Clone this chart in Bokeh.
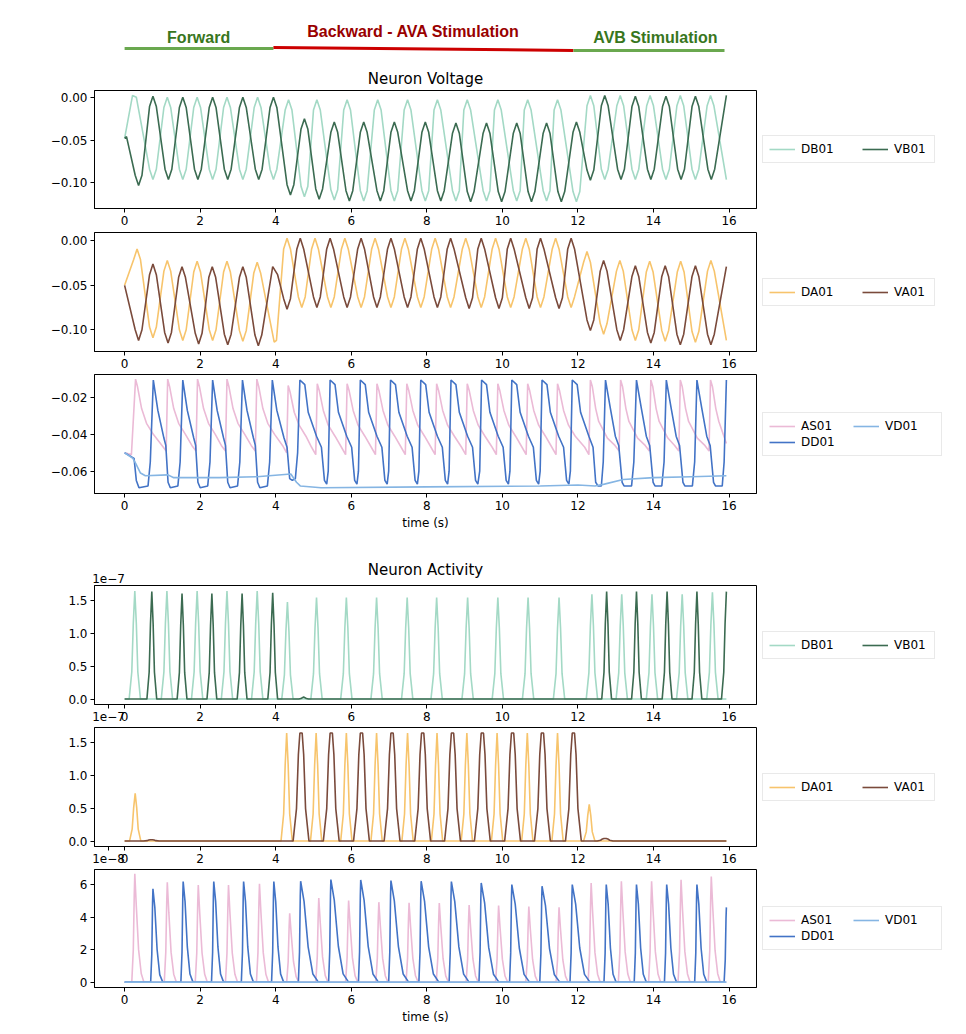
from bokeh.plotting import figure
from bokeh.models import (Range1d, FixedTicker, CustomJSTickFormatter, Legend,
                          LegendItem, LinearAxis, ColumnDataSource)
from bokeh.layouts import column
from bokeh.embed import file_html
from bokeh.resources import INLINE
from bokeh.core.properties import value

# ---------------- header phases ----------------
PHASE_NAMES = ["Forward", "Backward - AVA Stimulation", "AVB Stimulation"]
PHASE_START = [0.0, 3.94, 11.88]
PHASE_END = [3.94, 11.88, 15.88]
PHASE_LABEL_T = [1.96, 7.65, 14.05]

# ---------------- Neuron Voltage : DB01 / VB01 (turning points) ----------------
DB_T = [0.00, 0.21, 0.31, 0.75, 1.13, 1.54, 1.92, 2.33, 2.71, 3.13, 3.52, 3.94,
        4.34, 4.76, 5.09, 5.55, 5.89, 6.33, 6.70, 7.14, 7.49, 7.96, 8.28, 8.77,
        9.07, 9.58, 9.88, 10.38, 10.67, 11.17, 11.46, 11.96, 12.33, 12.71, 13.12,
        13.52, 13.91, 14.33, 14.71, 15.11, 15.51, 15.93]
DB_V = [-0.048, 0.002, 0.000, -0.096, 0.000, -0.096, 0.000, -0.096, 0.000, -0.096, 0.000, -0.096,
        -0.003, -0.116, -0.003, -0.120, -0.003, -0.121, -0.003, -0.121, -0.003, -0.121, -0.003, -0.121,
        -0.003, -0.121, -0.003, -0.121, -0.003, -0.121, -0.003, -0.122, 0.002, -0.096, 0.002,
        -0.096, 0.002, -0.096, 0.002, -0.096, 0.002, -0.096]
VB_T = [0.00, 0.05, 0.37, 0.75, 1.16, 1.54, 1.94, 2.33, 2.73, 3.13, 3.55, 3.94,
        4.39, 4.76, 5.15, 5.55, 5.95, 6.33, 6.77, 7.14, 7.58, 7.96, 8.37, 8.77,
        9.16, 9.58, 9.98, 10.38, 10.77, 11.17, 11.56, 11.96, 12.33, 12.71, 13.14,
        13.52, 13.93, 14.33, 14.73, 15.11, 15.53, 15.93]
VB_V = [-0.048, -0.046, -0.103, 0.001, -0.096, 0.000, -0.096, 0.000, -0.096, 0.000, -0.096, 0.000,
        -0.114, -0.025, -0.119, -0.029, -0.121, -0.029, -0.121, -0.029, -0.121, -0.029, -0.121, -0.030,
        -0.122, -0.030, -0.122, -0.030, -0.122, -0.030, -0.122, -0.029, -0.097, 0.002, -0.096,
        0.001, -0.096, 0.001, -0.096, 0.001, -0.096, 0.002]

# ---------------- Neuron Voltage : DA01 / VA01 (turning points) ----------------
DA_T = [0.00, 0.33, 0.75, 1.13, 1.54, 1.92, 2.33, 2.71, 3.13, 3.51, 3.96, 4.02,
        4.30, 4.69, 5.04, 5.46, 5.83, 6.26, 6.63, 7.05, 7.42, 7.84, 8.22, 8.63,
        9.03, 9.44, 9.82, 10.22, 10.62, 11.01, 11.41, 11.82, 12.24, 12.68, 13.11,
        13.52, 13.90, 14.31, 14.72, 15.11, 15.52, 15.93]
DA_V = [-0.050, -0.009, -0.109, -0.022, -0.112, -0.023, -0.112, -0.023, -0.113, -0.024, -0.114, -0.112,
        0.003, -0.075, 0.003, -0.075, 0.003, -0.075, 0.003, -0.075, 0.003, -0.075, 0.003, -0.075,
        0.003, -0.075, 0.003, -0.075, 0.003, -0.075, 0.003, -0.075, -0.012, -0.105, -0.022,
        -0.112, -0.023, -0.113, -0.023, -0.114, -0.022, -0.112]
VA_T = [0.00, 0.37, 0.75, 1.15, 1.52, 1.96, 2.32, 2.73, 3.13, 3.54, 3.92, 4.05,
        4.30, 4.65, 5.09, 5.44, 5.89, 6.26, 6.68, 7.05, 7.49, 7.84, 8.28, 8.63,
        9.12, 9.44, 9.91, 10.22, 10.71, 11.01, 11.50, 11.82, 12.33, 12.68, 13.12,
        13.52, 13.93, 14.31, 14.71, 15.11, 15.52, 15.93]
VA_V = [-0.050, -0.112, -0.026, -0.115, -0.029, -0.116, -0.029, -0.117, -0.029, -0.118, -0.029, -0.038,
        -0.077, 0.003, -0.075, 0.003, -0.075, 0.003, -0.075, 0.003, -0.075, 0.003, -0.075, 0.003,
        -0.076, 0.003, -0.076, 0.003, -0.076, 0.003, -0.076, 0.003, -0.101, -0.022, -0.112,
        -0.028, -0.115, -0.028, -0.117, -0.028, -0.117, -0.029]

# ---------------- Neuron Voltage : AS01 / DD01 / VD01 ----------------
AS_T = [0.00, 0.18, 0.29,
        0.34, 0.45, 0.58, 0.76, 0.99, 1.10, 1.14,
        1.19, 1.30, 1.43, 1.61, 1.78, 1.89, 1.93,
        1.98, 2.09, 2.22, 2.40, 2.56, 2.67, 2.71,
        2.76, 2.87, 3.00, 3.18, 3.35, 3.46, 3.50,
        3.55, 3.66, 3.79, 3.97, 4.18, 4.29, 4.33,
        4.38, 4.49, 4.62, 4.80, 4.95, 5.06, 5.10,
        5.15, 5.26, 5.39, 5.57, 5.74, 5.85, 5.89,
        5.94, 6.05, 6.18, 6.36, 6.53, 6.64, 6.68,
        6.73, 6.84, 6.97, 7.15, 7.32, 7.43, 7.47,
        7.52, 7.63, 7.76, 7.94, 8.11, 8.22, 8.26,
        8.31, 8.42, 8.55, 8.73, 8.92, 9.03, 9.07,
        9.12, 9.23, 9.36, 9.54, 9.73, 9.84, 9.88,
        9.93, 10.04, 10.17, 10.35, 10.52, 10.63, 10.67,
        10.72, 10.83, 10.96, 11.14, 11.31, 11.42, 11.46,
        11.51, 11.62, 11.75, 11.93, 12.18, 12.29, 12.33,
        12.38, 12.47, 12.55, 12.78, 12.98, 13.09, 13.13,
        13.18, 13.27, 13.35, 13.58, 13.78, 13.89, 13.93,
        13.98, 14.07, 14.15, 14.38, 14.56, 14.67, 14.71,
        14.76, 14.85, 14.93, 15.16, 15.36, 15.47, 15.51,
        15.56, 15.65, 15.73, 15.93]
AS_V = [-0.050, -0.051, -0.010,
        -0.014, -0.026, -0.034, -0.040, -0.046, -0.049, -0.010,
        -0.014, -0.026, -0.034, -0.040, -0.046, -0.049, -0.010,
        -0.014, -0.026, -0.034, -0.040, -0.046, -0.049, -0.010,
        -0.014, -0.026, -0.034, -0.040, -0.046, -0.049, -0.010,
        -0.014, -0.026, -0.034, -0.040, -0.046, -0.050, -0.0135,
        -0.017, -0.028, -0.035, -0.041, -0.047, -0.051, -0.0125,
        -0.016, -0.027, -0.035, -0.041, -0.047, -0.051, -0.0125,
        -0.016, -0.027, -0.035, -0.041, -0.047, -0.051, -0.0125,
        -0.016, -0.027, -0.035, -0.041, -0.047, -0.051, -0.0125,
        -0.016, -0.027, -0.035, -0.041, -0.047, -0.051, -0.0125,
        -0.016, -0.027, -0.035, -0.041, -0.047, -0.051, -0.0125,
        -0.016, -0.027, -0.035, -0.041, -0.047, -0.051, -0.0125,
        -0.016, -0.027, -0.035, -0.041, -0.047, -0.051, -0.0125,
        -0.016, -0.027, -0.035, -0.041, -0.047, -0.051, -0.0125,
        -0.016, -0.027, -0.035, -0.041, -0.047, -0.051, -0.0105,
        -0.014, -0.026, -0.033, -0.042, -0.046, -0.049, -0.0105,
        -0.014, -0.026, -0.033, -0.042, -0.046, -0.049, -0.0105,
        -0.014, -0.026, -0.033, -0.042, -0.046, -0.049, -0.0105,
        -0.014, -0.026, -0.033, -0.042, -0.046, -0.049, -0.0105,
        -0.014, -0.026, -0.033, -0.045]

DD_T = [0.00, 0.25, 0.31, 0.38, 0.62, 0.68, 0.76,
        0.88, 1.04, 1.09, 1.15, 1.21, 1.41, 1.47, 1.54,
        1.66, 1.83, 1.88, 1.94, 2.00, 2.20, 2.26, 2.33,
        2.45, 2.62, 2.67, 2.73, 2.79, 2.99, 3.05, 3.12,
        3.24, 3.41, 3.46, 3.52, 3.58, 3.78, 3.84, 3.91,
        4.03, 4.22, 4.30, 4.37, 4.44, 4.52, 4.58, 4.64,
        4.77, 4.86, 5.08, 5.21, 5.29, 5.35, 5.39, 5.44,
        5.57, 5.66, 5.88, 6.01, 6.09, 6.15, 6.19, 6.24,
        6.37, 6.46, 6.68, 6.81, 6.89, 6.95, 6.99, 7.04,
        7.17, 7.26, 7.48, 7.61, 7.69, 7.75, 7.79, 7.84,
        7.97, 8.06, 8.28, 8.41, 8.49, 8.55, 8.59, 8.64,
        8.77, 8.86, 9.08, 9.21, 9.29, 9.35, 9.40, 9.45,
        9.58, 9.67, 9.89, 10.02, 10.10, 10.16, 10.20, 10.25,
        10.38, 10.47, 10.69, 10.82, 10.90, 10.96, 11.00, 11.05,
        11.18, 11.27, 11.49, 11.62, 11.70, 11.76, 11.80, 11.85,
        11.98, 12.07, 12.29, 12.40, 12.47, 12.53, 12.62, 12.67, 12.73,
        12.86, 12.99, 13.08, 13.17, 13.22, 13.42, 13.48, 13.55,
        13.68, 13.81, 13.90, 13.99, 14.04, 14.22, 14.28, 14.34,
        14.47, 14.60, 14.69, 14.78, 14.83, 15.03, 15.09, 15.15,
        15.28, 15.41, 15.50, 15.59, 15.64, 15.82, 15.87, 15.93]
DD_V = [-0.050, -0.053, -0.065, -0.069, -0.068, -0.055, -0.0105,
        -0.027, -0.042, -0.046, -0.066, -0.069, -0.068, -0.055, -0.0105,
        -0.027, -0.042, -0.046, -0.066, -0.069, -0.068, -0.055, -0.0105,
        -0.027, -0.042, -0.046, -0.066, -0.069, -0.068, -0.055, -0.0105,
        -0.027, -0.042, -0.046, -0.066, -0.069, -0.068, -0.055, -0.0105,
        -0.027, -0.042, -0.047, -0.064, -0.065, -0.064, -0.050, -0.0105,
        -0.013, -0.028, -0.041, -0.047, -0.065, -0.067, -0.060, -0.0105,
        -0.013, -0.028, -0.041, -0.047, -0.065, -0.067, -0.060, -0.0105,
        -0.013, -0.028, -0.041, -0.047, -0.065, -0.067, -0.060, -0.0105,
        -0.013, -0.028, -0.041, -0.047, -0.065, -0.067, -0.060, -0.0105,
        -0.013, -0.028, -0.041, -0.047, -0.065, -0.067, -0.060, -0.0105,
        -0.013, -0.028, -0.041, -0.047, -0.065, -0.067, -0.060, -0.0105,
        -0.013, -0.028, -0.041, -0.047, -0.065, -0.067, -0.060, -0.0105,
        -0.013, -0.028, -0.041, -0.047, -0.065, -0.067, -0.060, -0.0105,
        -0.013, -0.028, -0.041, -0.047, -0.065, -0.067, -0.060, -0.0105,
        -0.013, -0.028, -0.041, -0.047, -0.066, -0.068, -0.068, -0.055, -0.0105,
        -0.026, -0.041, -0.046, -0.066, -0.068, -0.068, -0.055, -0.0105,
        -0.026, -0.041, -0.046, -0.066, -0.068, -0.068, -0.055, -0.0105,
        -0.026, -0.041, -0.046, -0.066, -0.068, -0.068, -0.055, -0.0105,
        -0.026, -0.041, -0.046, -0.066, -0.068, -0.068, -0.055, -0.0105]

VD_T = [0.00, 0.22, 0.30, 0.42, 0.55, 1.15, 1.30, 2.50, 3.50, 4.40, 4.55, 4.65,
        5.20, 8.00, 11.00, 12.00, 12.45, 12.70, 13.20, 14.00, 15.00, 15.93]
VD_V = [-0.050, -0.053, -0.056, -0.061, -0.0625, -0.062, -0.0635, -0.0635, -0.063, -0.0615, -0.066, -0.068,
        -0.069, -0.0685, -0.068, -0.0675, -0.068, -0.067, -0.0645, -0.0635, -0.063, -0.0625]

# ---------------- Neuron Activity (pulse peaks, x1e-7 / x1e-8) ----------------
DB_ACT_P = [0.27, 1.12, 1.92, 2.71, 3.51, 4.31, 5.08, 5.87, 6.67, 7.48, 8.26, 9.08, 9.88,
            10.68, 11.50, 12.37, 13.16, 13.96, 14.76, 15.56]
DB_ACT_H = [1.65, 1.65, 1.65, 1.65, 1.65, 1.48, 1.55, 1.55, 1.55, 1.55, 1.55, 1.55, 1.55,
            1.55, 1.55, 1.60, 1.60, 1.60, 1.60, 1.63]
VB_ACT_P = [0.72, 1.52, 2.31, 3.11, 3.92, 4.74, 12.76, 13.55, 14.36, 15.15, 15.93]
VB_ACT_H = [1.64, 1.61, 1.61, 1.61, 1.62, 0.03, 1.64, 1.64, 1.64, 1.64, 1.64]

DA_ACT_P = [0.28, 4.29, 5.07, 5.87, 6.67, 7.49, 8.27, 9.06, 9.86, 10.66, 11.46, 12.30]
DA_ACT_H = [0.73, 1.65, 1.65, 1.65, 1.65, 1.65, 1.65, 1.65, 1.65, 1.65, 1.65, 0.56]
VA_ACT_P = [0.71, 4.67, 5.47, 6.27, 7.08, 7.89, 8.68, 9.47, 10.27, 11.06, 11.88, 12.72]
VA_ACT_H = [0.02, 1.65, 1.65, 1.65, 1.65, 1.65, 1.65, 1.65, 1.65, 1.65, 1.65, 0.04]

AS_ACT_P = [0.27, 1.13, 1.95, 2.75, 3.57, 4.37, 5.14, 5.93, 6.73, 7.53, 8.33, 9.12, 9.90,
            10.70, 11.50, 12.35, 13.15, 13.95, 14.73, 15.53]
AS_ACT_H = [6.66, 6.15, 5.98, 5.98, 6.05, 4.24, 5.18, 5.02, 4.92, 4.88, 4.86, 4.75, 4.71,
            4.65, 4.60, 6.10, 6.20, 6.20, 6.30, 6.50]
DD_ACT_P = [0.75, 1.55, 2.36, 3.15, 3.95, 4.66, 5.46, 6.25, 7.05, 7.85, 8.65, 9.44, 10.25,
            11.05, 11.85, 12.75, 13.55, 14.35, 15.15, 15.93]
DD_ACT_H = [5.74, 6.19, 6.19, 6.19, 6.19, 6.21, 6.31, 6.29, 6.25, 6.21, 6.19, 6.10, 6.00,
            5.90, 6.00, 6.00, 6.00, 6.00, 6.00, 4.60]
DD_ACT_DECAY = [1.0, 1.0, 1.0, 1.0, 1.0, 1.8, 1.8, 1.8, 1.8, 1.8, 1.8, 1.8, 1.8,
                1.8, 1.8, 1.0, 1.0, 1.0, 1.0, 1.0]
VD_ACT_T = [0.0, 15.93]
VD_ACT_V = [0.0, 0.0]

T_END = 15.93

# rounded crests of the oscillations as seen in the picture: 0.09 s either side of a
# turning point the trace is about 0.012 V away from it
CAP_DT = 0.09
CAP_DV = 0.012

# pulse outlines (offset in s, fraction of peak)
BELL_DX = [-0.15, -0.08, -0.04, 0.0, 0.04, 0.08, 0.15]
BELL_FY = [0.0, 0.25, 0.7, 1.0, 0.7, 0.25, 0.0]
NARROW_DX = [-0.13, -0.07, -0.035, 0.0, 0.035, 0.07, 0.13]
BROAD_DX = [-0.21, -0.12, -0.07, -0.03, 0.03, 0.07, 0.12, 0.21]
BROAD_FY = [0.0, 0.3, 0.8, 1.0, 1.0, 0.8, 0.3, 0.0]
SPIKE_DX = [-0.08, -0.04, -0.015, 0.0, 0.04, 0.10, 0.17, 0.24]
SPIKE_FY = [0.0, 0.3, 0.8, 1.0, 0.7, 0.3, 0.08, 0.0]
DDSPK_DX = [-0.06, -0.03, -0.01, 0.0, 0.05, 0.11, 0.18, 0.26]
DDSPK_FY = [0.0, 0.3, 0.85, 1.0, 0.8, 0.35, 0.08, 0.0]


def rounded(ts, vs):
    """Trace through the turning points with their rounded crests."""
    xs, ys = [ts[0]], [vs[0]]
    n = len(ts)
    for i in range(1, n):
        t, v = ts[i], vs[i]
        if i < n - 1:
            vp, vn = vs[i - 1], vs[i + 1]
            gap_l, gap_r = t - ts[i - 1], ts[i + 1] - t
            if (v - vp) * (v - vn) > 0 and gap_l > 2.2 * CAP_DT and gap_r > 2.2 * CAP_DT:
                sgn = 1.0 if v > vp else -1.0
                dl = min(CAP_DV, 0.4 * abs(v - vp))
                dr = min(CAP_DV, 0.4 * abs(v - vn))
                xs += [t - CAP_DT, t, t + CAP_DT]
                ys += [v - sgn * dl, v, v - sgn * dr]
                continue
        xs.append(t)
        ys.append(v)
    return xs, ys


def pulses(peaks, heights, dx, fy, decay=None):
    xs, ys = [0.0], [0.0]
    for i, (pk, h) in enumerate(zip(peaks, heights)):
        s = decay[i] if decay else 1.0
        for d, f in zip(dx, fy):
            x = pk + (d * s if d > 0 else d)
            if x <= xs[-1] or x > T_END + 1e-9:
                continue
            xs.append(x)
            ys.append(h * f)
    if xs[-1] < T_END:
        xs.append(T_END)
        ys.append(0.0)
    return xs, ys


FONT = "DejaVu Sans"
X0, X1 = -0.797, 16.727
FRAME_W = 662
OFFSET_X = -0.426  # where the scientific offset text sits

C_DB, C_VB = "#a3d9c5", "#3b6b51"
C_DA, C_VA = "#f7c46c", "#7a4a3b"
C_AS, C_DD, C_VD = "#ebbad6", "#4273c6", "#85b5e3"
LW = 1.6


def make_fig(fh, top, bottom, yr, yticks, digits, xlabel=False, title=None,
             title_standoff=6, offset_below=None):
    p = figure(frame_width=FRAME_W, frame_height=fh, x_range=Range1d(X0, X1),
               y_range=Range1d(*yr), output_backend="svg", toolbar_location=None,
               title=title, min_border_left=94, min_border_right=210,
               min_border_top=top, min_border_bottom=bottom)
    p.xgrid.visible = False
    p.ygrid.visible = False
    p.outline_line_color = "black"
    p.outline_line_width = 1
    p.outline_line_alpha = 1
    for ax in (p.xaxis[0], p.yaxis[0]):
        ax.major_tick_out = 4
        ax.major_tick_in = 0
        ax.minor_tick_line_color = None
        ax.axis_line_color = "black"
        ax.major_tick_line_color = "black"
        ax.major_label_text_font = FONT
        ax.major_label_text_font_size = "12px"
        ax.major_label_text_color = "black"
        ax.major_label_standoff = 3
    xt = list(range(0, 17, 2))
    if offset_below:
        xt = [OFFSET_X] + xt
        p.xaxis.formatter = CustomJSTickFormatter(
            code="return tick < -0.1 ? '%s' : tick.toFixed(0);" % offset_below)
    p.xaxis.ticker = FixedTicker(ticks=xt)
    p.yaxis.ticker = FixedTicker(ticks=yticks)
    p.yaxis.formatter = CustomJSTickFormatter(
        code="return tick.toFixed(%d).replace('-', '\\u2212');" % digits)
    if xlabel:
        p.xaxis.axis_label = "time (s)"
        p.xaxis.axis_label_text_font = FONT
        p.xaxis.axis_label_text_font_size = "12px"
        p.xaxis.axis_label_text_font_style = "normal"
        p.xaxis.axis_label_text_color = "black"
        p.xaxis.axis_label_standoff = 3
    if title:
        p.title.align = "center"
        p.title.text_font = FONT
        p.title.text_font_size = "15px"
        p.title.text_font_style = "normal"
        p.title.text_color = "black"
        p.title.standoff = title_standoff
    return p


def add_legend(p, items, ncols=None, label_width=34, spacing=27):
    kw = dict(items=items, location="center_left", orientation="horizontal",
              label_text_font=FONT, label_text_font_size="12px", label_text_color="black",
              glyph_width=26, glyph_height=12, label_height=12, label_width=label_width,
              label_standoff=6, spacing=spacing, padding=6, margin=6,
              border_line_color="#d4d4d4", border_line_width=1,
              background_fill_color="white", background_fill_alpha=1)
    if ncols:
        kw["ncols"] = ncols
    p.add_layout(Legend(**kw), "right")


def offset_above(p, text):
    ax = LinearAxis(ticker=FixedTicker(ticks=[OFFSET_X]),
                    formatter=CustomJSTickFormatter(code="return '%s';" % text),
                    major_tick_out=0, major_tick_in=0, axis_line_color=None,
                    major_tick_line_color=None, minor_tick_line_color=None,
                    major_label_standoff=3, major_label_text_font=FONT,
                    major_label_text_font_size="12px", major_label_text_color="black")
    p.add_layout(ax, "above")


# ---------------- header ----------------
hdr = figure(frame_width=FRAME_W, frame_height=64, x_range=Range1d(X0, X1),
             y_range=Range1d(64, 0), output_backend="svg", toolbar_location=None,
             min_border_left=94, min_border_right=210, min_border_top=0, min_border_bottom=0)
hdr.axis.visible = False
hdr.xgrid.visible = False
hdr.ygrid.visible = False
hdr.outline_line_color = None
hsrc = ColumnDataSource(dict(x0=PHASE_START, x1=PHASE_END, y0=[48, 47, 50], y1=[48, 50, 50],
                             lc=["#6aa84f", "#cc0000", "#6aa84f"],
                             tx=PHASE_LABEL_T, ty=[37, 31, 37], txt=PHASE_NAMES,
                             tc=["#38761d", "#990000", "#38761d"]))
hdr.segment(x0="x0", y0="y0", x1="x1", y1="y1", line_color="lc", line_width=3, source=hsrc)
hdr.text(x="tx", y="ty", text="txt", text_color="tc", text_font=value("Liberation Sans"),
         text_font_style="bold", text_font_size="16px", text_align="center",
         text_baseline="middle", source=hsrc)

# ---------------- panel 1 ----------------
f1 = make_fig(118, 26, 23, (-0.1298, 0.0078), [-0.10, -0.05, 0.0], 2, title="Neuron Voltage")
x, y = rounded(DB_T, DB_V)
r1 = f1.line(x, y, line_color=C_DB, line_width=LW)
x, y = rounded(VB_T, VB_V)
r2 = f1.line(x, y, line_color=C_VB, line_width=LW)
add_legend(f1, [LegendItem(label="DB01", renderers=[r1]), LegendItem(label="VB01", renderers=[r2])])

# ---------------- panel 2 ----------------
f2 = make_fig(119, 1, 22, (-0.1245, 0.0095), [-0.10, -0.05, 0.0], 2)
x, y = rounded(DA_T, DA_V)
r1 = f2.line(x, y, line_color=C_DA, line_width=LW)
x, y = rounded(VA_T, VA_V)
r2 = f2.line(x, y, line_color=C_VA, line_width=LW)
add_legend(f2, [LegendItem(label="DA01", renderers=[r1]), LegendItem(label="VA01", renderers=[r2])])

# ---------------- panel 3 ----------------
f3 = make_fig(119, 1, 52, (-0.0721, -0.0075), [-0.06, -0.04, -0.02], 2, xlabel=True)
r1 = f3.line(AS_T, AS_V, line_color=C_AS, line_width=LW)
r2 = f3.line(DD_T, DD_V, line_color=C_DD, line_width=LW)
r3 = f3.line(VD_T, VD_V, line_color=C_VD, line_width=LW)
add_legend(f3, [LegendItem(label="AS01", renderers=[r1]), LegendItem(label="VD01", renderers=[r3]),
                LegendItem(label="DD01", renderers=[r2])], ncols=2, label_width=50, spacing=2)

# ---------------- panel 4 ----------------
f4 = make_fig(119, 40, 21, (-0.083, 1.733), [0.0, 0.5, 1.0, 1.5], 1, title="Neuron Activity",
              title_standoff=-17, offset_below="1e\\u22127")
offset_above(f4, "1e\\u22127")
x, y = pulses(DB_ACT_P, DB_ACT_H, BELL_DX, BELL_FY)
r1 = f4.line(x, y, line_color=C_DB, line_width=LW)
x, y = pulses(VB_ACT_P, VB_ACT_H, NARROW_DX, BELL_FY)
r2 = f4.line(x, y, line_color=C_VB, line_width=LW)
add_legend(f4, [LegendItem(label="DB01", renderers=[r1]), LegendItem(label="VB01", renderers=[r2])])

# ---------------- panel 5 ----------------
f5 = make_fig(119, 2, 21, (-0.083, 1.733), [0.0, 0.5, 1.0, 1.5], 1, offset_below="1e\\u22128")
x, y = pulses(DA_ACT_P, DA_ACT_H, BELL_DX, BELL_FY)
r1 = f5.line(x, y, line_color=C_DA, line_width=LW)
x, y = pulses(VA_ACT_P, VA_ACT_H, BROAD_DX, BROAD_FY)
r2 = f5.line(x, y, line_color=C_VA, line_width=LW)
add_legend(f5, [LegendItem(label="DA01", renderers=[r1]), LegendItem(label="VA01", renderers=[r2])])

# ---------------- panel 6 ----------------
f6 = make_fig(118, 2, 47, (-0.33, 6.93), [0, 2, 4, 6], 0, xlabel=True)
x, y = pulses(AS_ACT_P, AS_ACT_H, SPIKE_DX, SPIKE_FY)
r1 = f6.line(x, y, line_color=C_AS, line_width=LW)
x, y = pulses(DD_ACT_P, DD_ACT_H, DDSPK_DX, DDSPK_FY, decay=DD_ACT_DECAY)
r2 = f6.line(x, y, line_color=C_DD, line_width=LW)
r3 = f6.line(VD_ACT_T, VD_ACT_V, line_color=C_VD, line_width=LW)
add_legend(f6, [LegendItem(label="AS01", renderers=[r1]), LegendItem(label="VD01", renderers=[r3]),
                LegendItem(label="DD01", renderers=[r2])], ncols=2, label_width=50, spacing=2)

layout = column(hdr, f1, f2, f3, f4, f5, f6, spacing=0)
open("out.html", "w").write(file_html(layout, INLINE))
